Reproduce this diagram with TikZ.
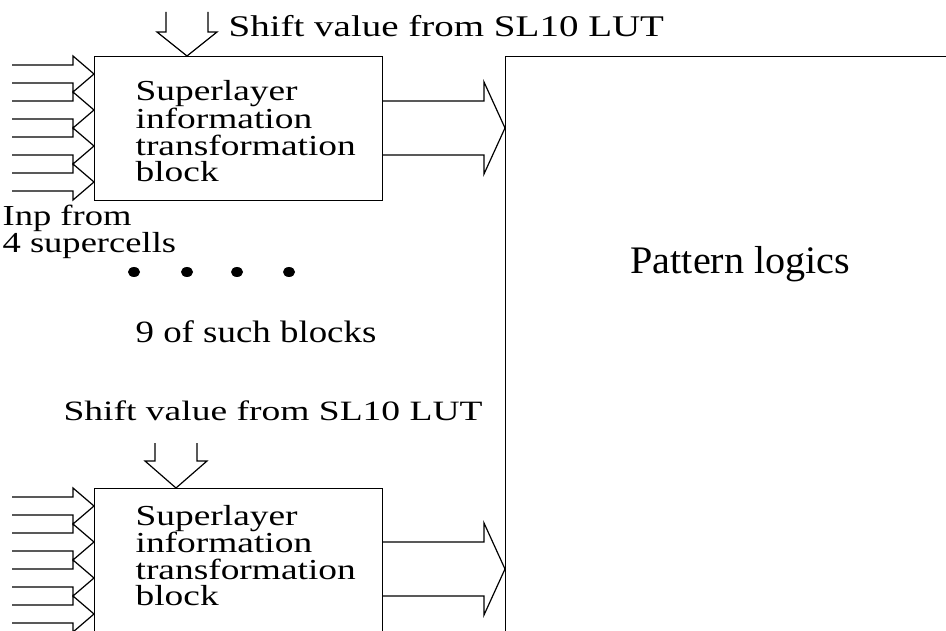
\documentclass[tikz,border=0pt]{standalone}
\usepackage{fontspec}
\setmainfont{Liberation Serif}
\usepackage{graphicx}
% horizontal hollow arrow: x0, x1 (head start), x2 (tip), yc, shaft half width, head half width
\newcommand{\hollowH}[6]{%
  \draw[arr] (#1,{#4-#5}) -- (#2,{#4-#5}) -- (#2,{#4-#6}) -- (#3,#4) -- (#2,{#4+#6}) -- (#2,{#4+#5}) -- (#1,{#4+#5});}
% vertical hollow arrow: y0, y1 (head start), y2 (tip), xc, shaft half width, head half width
\newcommand{\hollowV}[6]{%
  \draw[arr] ({#4-#5},#1) -- ({#4-#5},#2) -- ({#4-#6},#2) -- (#4,#3) -- ({#4+#6},#2) -- ({#4+#5},#2) -- ({#4+#5},#1);}
\newcommand{\sx}[2]{\scalebox{#1}[1]{#2}}
\newcommand{\blocktext}{\vtop{\baselineskip=26.5pt\hbox{Superlayer}\hbox{information}\hbox{transformation}\hbox{block}}}
\begin{document}
\begin{tikzpicture}[x=1pt,y=-1pt,line width=1.2pt,
  arr/.style={line join=miter},
  blockbox/.style={draw,anchor=north west,inner sep=0pt,minimum width=288pt},
  lbl/.style={inner sep=0pt,anchor=base west}]
\clip (0,0) rectangle (946,631);
\fill[white] (0,0) rectangle (946,631);

% blocks
\node[blockbox,minimum height=144pt] (blockA) at (94,56) {};
\node[blockbox,minimum height=200pt] (blockB) at (94,488) {};
\node[draw,anchor=north west,inner sep=0pt,minimum width=470pt,minimum height=620pt] (pattern) at (505,56) {};

% texts
\node[lbl,font=\fontsize{30}{30}\selectfont] (shiftA) at (228,37) {\sx{1.30}{Shift value from SL10 LUT}};
\node[lbl,font=\fontsize{28}{28}\selectfont] (shiftB) at (63,420) {\sx{1.34}{Shift value from SL10 LUT}};
\node[lbl,font=\fontsize{29}{26.5}\selectfont] (textA) at (135,101) {\sx{1.29}{\blocktext}};
\node[lbl,font=\fontsize{29}{26.5}\selectfont] (textB) at (135,525) {\sx{1.29}{\blocktext}};
\node[lbl,font=\fontsize{29}{28}\selectfont] (inp) at (2,226)
  {\sx{1.26}{\vtop{\baselineskip=27pt\hbox{Inp from}\hbox{4 supercells}}}};
\node[lbl,font=\fontsize{31}{31}\selectfont] (nine) at (135,343) {\sx{1.19}{9 of such blocks}};
\node[lbl,font=\fontsize{39}{39}\selectfont] (plog) at (630,274) {\sx{1.03}{Pattern logics}};

% dots
\foreach \x in {134,187,237,289} \fill (\x,272) ellipse [x radius=6pt,y radius=5pt];

% shift arrows
\hollowV{12}{32}{56}{187}{21}{30}
\hollowV{443}{461}{488}{176}{21}{31}

% input arrows
\foreach \y in {74,110,146,182} {\hollowH{12}{73}{94}{\y}{9}{18}}
\foreach \y in {506,542,578,614} {\hollowH{12}{73}{94}{\y}{9}{18}}

% output arrows
\hollowH{382}{484}{505}{128}{27}{46}
\hollowH{382}{484}{505}{569}{27}{46}
\end{tikzpicture}
\end{document}
